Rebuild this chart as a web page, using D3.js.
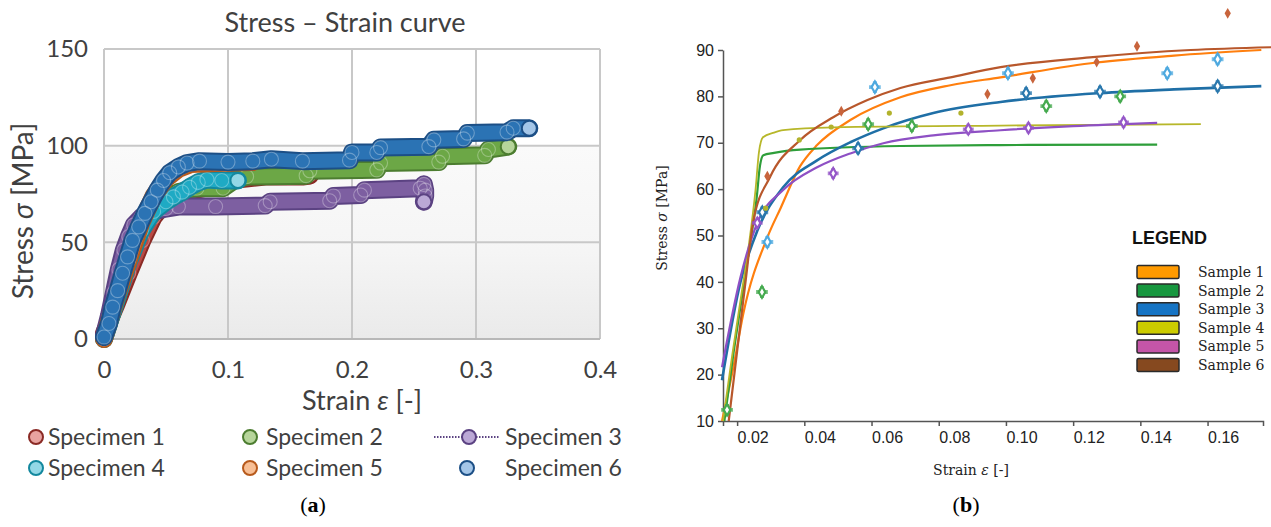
<!DOCTYPE html>
<html>
<head>
<meta charset="utf-8">
<script src="https://cdn.jsdelivr.net/npm/d3@7"></script>
<style>
  body { margin: 0; background: #fff; }
  svg { display: block; }
</style>
</head>
<body>
<svg id="chart" width="1271" height="527"></svg>
<script>
// ---------- panel (a) data : strain [-], stress [MPa] ----------
const specimenNames = ['Specimen 1', 'Specimen 2', 'Specimen 3', 'Specimen 4', 'Specimen 5', 'Specimen 6']
const specimen1 = [[0, 3], [0.01, 18], [0.02, 34], [0.031, 51], [0.04, 63], [0.05, 71], [0.06, 75], [0.08, 78], [0.1, 82], [0.13, 84], [0.16, 84], [0.166, 84.5]]
const specimen2 = [[0, 0], [0.01, 20], [0.02, 41], [0.03, 58], [0.04, 68], [0.05, 73], [0.06, 76], [0.075, 78], [0.096, 78], [0.105, 82], [0.115, 84], [0.163, 84.5], [0.166, 87], [0.22, 87.5], [0.223, 91], [0.27, 91.5], [0.273, 94.5], [0.307, 95], [0.31, 98], [0.326, 99.5]]
const specimen3 = [[0, 2], [0.004, 12], [0.008, 24], [0.012, 36], [0.016, 46], [0.02, 53], [0.024, 59], [0.03, 63], [0.04, 66], [0.05, 67.5], [0.06, 68.5], [0.09, 68.5], [0.13, 69], [0.134, 71], [0.182, 71.5], [0.185, 74], [0.207, 74.5], [0.21, 77], [0.255, 78], [0.258, 80], [0.259, 77], [0.259, 74], [0.258, 71]]
const specimen4 = [[0, 0], [0.01, 20], [0.02, 40], [0.03, 56], [0.04, 66], [0.05, 71], [0.056, 73.5], [0.063, 76], [0.069, 78.5], [0.076, 81], [0.083, 82.5], [0.095, 82], [0.108, 82]]
const specimen5 = [[0, 0], [0.01, 22], [0.02, 41], [0.03, 60], [0.04, 74], [0.05, 83], [0.06, 88], [0.07, 90.5], [0.09, 91], [0.12, 91.5]]
const specimen6 = [[0, 1], [0.004, 8], [0.007, 16.5], [0.011, 25], [0.015, 34], [0.019, 42.5], [0.023, 51], [0.028, 58], [0.033, 65], [0.038, 71], [0.043, 77], [0.048, 82], [0.053, 86], [0.06, 89], [0.067, 91], [0.077, 92], [0.1, 91.5], [0.12, 92], [0.135, 93], [0.16, 92], [0.198, 92.5], [0.2, 96.5], [0.22, 96.5], [0.223, 99], [0.262, 99.5], [0.266, 103], [0.29, 103.5], [0.293, 106.5], [0.325, 107], [0.33, 109], [0.343, 109]]
const strainTicksA = [0, 0.1, 0.2, 0.3, 0.4]
const stressTicksA = [0, 50, 100, 150]

// ---------- panel (b) data ----------
const sampleNames = ['Sample 1', 'Sample 2', 'Sample 3', 'Sample 4', 'Sample 5', 'Sample 6']
const sample1Fit = [[0.0155, 10], [0.019, 22], [0.0218, 33], [0.029, 49.6], [0.033, 56], [0.0388, 65], [0.0438, 69.5], [0.0537, 74.9], [0.0686, 79.8], [0.0835, 82.4], [0.0984, 84.1], [0.127, 87.3], [0.15, 88.8], [0.176, 90]]
const sample2Fit = [[0.0162, 10], [0.019, 25], [0.0215, 37], [0.0238, 48], [0.0258, 58], [0.0268, 65], [0.0278, 67.3], [0.031, 67.8], [0.0388, 68.5], [0.0686, 69.3], [0.0984, 69.5], [0.145, 69.6]]
const sample3Fit = [[0.0155, 18.8], [0.021, 40], [0.026, 51], [0.0337, 60.4], [0.0438, 66.2], [0.0537, 70.1], [0.0635, 73.1], [0.0784, 76.4], [0.0984, 78.8], [0.128, 80.7], [0.15, 81.5], [0.176, 82.2]]
const sample4Fit = [[0.0158, 10], [0.0185, 24], [0.021, 36], [0.0235, 48], [0.0255, 60], [0.0265, 68], [0.0277, 71.2], [0.031, 72.2], [0.0337, 72.7], [0.0486, 73.3], [0.0984, 73.7], [0.158, 74]]
const sample5Fit = [[0.0155, 21.6], [0.021, 41], [0.026, 52.7], [0.0337, 59.8], [0.0438, 64.7], [0.0537, 67.7], [0.0635, 69.9], [0.0784, 71.6], [0.0984, 72.7], [0.12, 73.6], [0.145, 74.3]]
const sample6Fit = [[0.0175, 10], [0.02, 25], [0.0225, 40], [0.0248, 53], [0.0298, 62.6], [0.0388, 70.6], [0.0486, 75.5], [0.0588, 79.2], [0.0686, 81.8], [0.0835, 84.1], [0.0984, 86.3], [0.125, 88.4], [0.155, 90], [0.179, 90.6]]
const lightBlueMarks = [[0.029, 48.6], [0.061, 82], [0.1006, 85], [0.148, 85], [0.163, 88]]
const darkBlueMarks = [[0.0275, 55], [0.056, 68.8], [0.106, 80.7], [0.128, 81], [0.163, 82.2]]
const brownMarks = [[0.029, 62.8], [0.051, 76.8], [0.0945, 80.5], [0.108, 83.9], [0.127, 87.4], [0.139, 90.8], [0.166, 97.9]]
const greenMarks = [[0.017, 12.4], [0.0274, 37.8], [0.059, 74], [0.072, 73.6], [0.112, 77.9], [0.134, 80]]
const purpleMarks = [[0.026, 52.7], [0.0486, 63.4], [0.0888, 72.9], [0.1067, 73.2], [0.135, 74.4]]
const oliveMarks = [[0.0285, 55.9], [0.0385, 70.6], [0.048, 73.4], [0.0653, 76.4], [0.0866, 76.4]]
const strainTicksB = [0.02, 0.04, 0.06, 0.08, 0.10, 0.12, 0.14, 0.16]
const stressTicksB = [10, 20, 30, 40, 50, 60, 70, 80, 90]

const svg = d3.select('#chart')
const defs = svg.append('defs')

/* ------------- PANEL A ------------ */
const specimens = [specimen1, specimen2, specimen3, specimen4, specimen5, specimen6]
const specColor = ['#b94a44', '#6ca746', '#7d5fa1', '#1eaac4', '#ec7c30', '#2b73b4']
const specDark = ['#8a2a25', '#4c7d30', '#5b4282', '#13889e', '#b75a1c', '#1c4f86']
const specLight = ['#e8a3a0', '#b6d59a', '#bba8d6', '#93d8e6', '#f8bf95', '#a4c6e8']
const fontA = 'Lato, "Open Sans", sans-serif'

const xA = d3.scaleLinear().domain([0, 0.4]).range([104, 600])
const yA = d3.scaleLinear().domain([0, 150]).range([339, 49])

const shade = defs.append('linearGradient').attr('id', 'shadeA')
  .attr('x1', 0).attr('y1', 0).attr('x2', 0).attr('y2', 1)
shade.append('stop').attr('offset', '0%').attr('stop-color', '#fafafa')
shade.append('stop').attr('offset', '55%').attr('stop-color', '#f5f5f5')
shade.append('stop').attr('offset', '100%').attr('stop-color', '#eaeaea')

const gA = svg.append('g')
gA.append('rect')
  .attr('x', xA(0)).attr('y', yA(150))
  .attr('width', xA(0.4) - xA(0)).attr('height', yA(0) - yA(150))
  .attr('fill', '#fff')
gA.append('rect')
  .attr('x', xA(0)).attr('y', yA(100))
  .attr('width', xA(0.4) - xA(0)).attr('height', yA(0) - yA(100))
  .attr('fill', 'url(#shadeA)')

gA.selectAll('line.vgrid').data(strainTicksA).enter().append('line')
  .attr('class', 'vgrid')
  .attr('x1', d => xA(d)).attr('x2', d => xA(d))
  .attr('y1', yA(150)).attr('y2', yA(0))
  .attr('stroke', '#c8c8c8').attr('stroke-width', 2)
gA.selectAll('line.hgrid').data(stressTicksA).enter().append('line')
  .attr('class', 'hgrid')
  .attr('x1', xA(0)).attr('x2', xA(0.4))
  .attr('y1', d => yA(d)).attr('y2', d => yA(d))
  .attr('stroke', d => d === 0 ? '#b8b8b8' : '#c8c8c8').attr('stroke-width', 2)

const axA_y = gA.append('g').attr('transform', `translate(${xA(0)},0)`)
  .call(d3.axisLeft(yA).tickValues(stressTicksA).tickSize(0).tickPadding(16))
const axA_x = gA.append('g').attr('transform', `translate(0,${yA(0)})`)
  .call(d3.axisBottom(xA).tickValues(strainTicksA).tickSize(0).tickPadding(22)
    .tickFormat(d => d === 0 ? '0' : d3.format('.1f')(d)))
for (const ax of [axA_y, axA_x]) {
  ax.select('.domain').remove()
  ax.selectAll('text').attr('font-family', fontA).attr('font-size', 24).attr('fill', '#404040')
}

const lineA = d3.line().x(d => xA(d[0])).y(d => yA(d[1]))
specimens.forEach((pts, i) => {
  const g = gA.append('g')
  g.append('path').attr('d', lineA(pts))
    .attr('fill', 'none').attr('stroke', specDark[i]).attr('stroke-width', 18)
    .attr('stroke-linejoin', 'round').attr('stroke-linecap', 'round')
  g.append('path').attr('d', lineA(pts))
    .attr('fill', 'none').attr('stroke', specColor[i]).attr('stroke-width', 14)
    .attr('stroke-linejoin', 'round').attr('stroke-linecap', 'round')
  g.selectAll('circle.m').data(pts.slice(0, -1)).enter().append('circle')
    .attr('class', 'm')
    .attr('cx', d => xA(d[0])).attr('cy', d => yA(d[1])).attr('r', 7)
    .attr('fill', 'none').attr('stroke', '#fff').attr('stroke-opacity', 0.3).attr('stroke-width', 1.1)
  const last = pts[pts.length - 1]
  g.append('circle')
    .attr('cx', xA(last[0])).attr('cy', yA(last[1])).attr('r', 7.5)
    .attr('fill', specLight[i]).attr('stroke', specDark[i]).attr('stroke-width', 2)
})

gA.append('text').attr('x', 345).attr('y', 32)
  .attr('text-anchor', 'middle').attr('font-family', fontA).attr('font-size', 27).attr('fill', '#404040')
  .text('Stress – Strain curve')

const yTitleA = gA.append('text')
  .attr('transform', 'translate(33,211) rotate(-90)')
  .attr('text-anchor', 'middle').attr('font-family', fontA).attr('font-size', 28).attr('fill', '#404040')
yTitleA.append('tspan').text('Stress ')
yTitleA.append('tspan').attr('font-style', 'italic').text('σ')
yTitleA.append('tspan').text(' [MPa]')

const xTitleA = gA.append('text').attr('x', 362).attr('y', 410)
  .attr('text-anchor', 'middle').attr('font-family', fontA).attr('font-size', 27).attr('fill', '#404040')
xTitleA.append('tspan').text('Strain ')
xTitleA.append('tspan').attr('font-style', 'italic').text('ε')
xTitleA.append('tspan').text(' [-]')

// legend (a)
const legendA = [
  { i: 0, mx: 36, tx: 48, y: 437 },
  { i: 1, mx: 250, tx: 266, y: 437 },
  { i: 2, mx: 469, tx: 505, y: 437 },
  { i: 3, mx: 36, tx: 48, y: 468 },
  { i: 4, mx: 250, tx: 266, y: 468 },
  { i: 5, mx: 467, tx: 505, y: 468 }
]
legendA.forEach(l => {
  if (l.i === 2) {
    gA.append('line').attr('x1', 434).attr('x2', 500).attr('y1', l.y).attr('y2', l.y)
      .attr('stroke', specDark[2]).attr('stroke-width', 2).attr('stroke-dasharray', '1.5,1.5')
  }
  gA.append('circle').attr('cx', l.mx).attr('cy', l.y).attr('r', 7)
    .attr('fill', specLight[l.i]).attr('stroke', specDark[l.i]).attr('stroke-width', 2)
  gA.append('text').attr('x', l.tx).attr('y', l.y + 8)
    .attr('font-family', fontA).attr('font-size', 23).attr('fill', '#404040')
    .text(specimenNames[l.i])
})

const capA = svg.append('text').attr('x', 313).attr('y', 512).attr('text-anchor', 'middle')
  .attr('font-family', '"Liberation Serif", serif').attr('font-size', 22).attr('fill', '#000')
capA.append('tspan').text('(')
capA.append('tspan').attr('font-weight', 'bold').text('a')
capA.append('tspan').text(')')

/* ------------- PANEL B ------------ */
const fits = [sample1Fit, sample2Fit, sample3Fit, sample4Fit, sample5Fit, sample6Fit]
const fitColor = ['#ff7f0e', '#2e9e3a', '#1f6fa6', '#b7b72a', '#8e50c4', '#b8572b']
const swatchColor = ['#ff9a00', '#17973f', '#1674c4', '#cccc00', '#c455a8', '#86491f']
const serifB = '"DejaVu Serif", serif'

const xB = d3.scaleLinear().domain([0.0158, 0.1765]).range([723, 1263])
const yB = d3.scaleLinear().domain([10, 90]).range([421, 50])
const gB = svg.append('g')

const axB_x = gB.append('g').attr('transform', `translate(0,${yB(10)})`)
  .call(d3.axisBottom(xB).tickValues(strainTicksB).tickSize(5).tickSizeOuter(5).tickPadding(6)
    .tickFormat(d3.format('.2f')))
axB_x.selectAll('.tick text').attr('text-anchor', 'start')
const axB_y = gB.append('g').attr('transform', `translate(${xB.range()[0]},0)`)
  .call(d3.axisLeft(yB).tickValues(stressTicksB).tickSize(5).tickSizeOuter(0).tickPadding(4))
for (const ax of [axB_x, axB_y]) {
  ax.select('.domain').attr('stroke', '#555').attr('stroke-width', 1.5)
  ax.selectAll('.tick line').attr('stroke', '#555').attr('stroke-width', 1.5)
  ax.selectAll('text').attr('font-family', '"Liberation Sans", Arial, sans-serif')
    .attr('font-size', 16).attr('fill', '#222')
}

const lineB = d3.line().x(d => xB(d[0])).y(d => yB(d[1])).curve(d3.curveMonotoneX)
fits.forEach((pts, i) => {
  gB.append('path').attr('d', lineB(pts))
    .attr('fill', 'none').attr('stroke', fitColor[i])
    .attr('stroke-width', i === 3 ? 1.8 : (i === 2 ? 2.6 : 2.2))
})

// open diamond with small cross tips, like the measured points
function diamondMarks(pts, color, size) {
  gB.selectAll(null).data(pts).enter().append('path')
    .attr('transform', d => `translate(${xB(d[0])},${yB(d[1])})`)
    .attr('d', d3.symbol().type(d3.symbolCross).size(size * 1.1))
    .attr('fill', color).attr('fill-opacity', 0.75)
  gB.selectAll(null).data(pts).enter().append('path')
    .attr('transform', d => `translate(${xB(d[0])},${yB(d[1])})`)
    .attr('d', d3.symbol().type(d3.symbolDiamond).size(size * 0.55))
    .attr('fill', '#fff').attr('stroke', color).attr('stroke-width', 2.2)
}
diamondMarks(lightBlueMarks, '#4ea9df', 70)
diamondMarks(darkBlueMarks, '#2a78ad', 70)
diamondMarks(greenMarks, '#45aa4f', 70)
diamondMarks(purpleMarks, '#9557c8', 60)
gB.selectAll(null).data(brownMarks).enter().append('path')
  .attr('transform', d => `translate(${xB(d[0])},${yB(d[1])})`)
  .attr('d', d3.symbol().type(d3.symbolDiamond).size(34))
  .attr('fill', '#c8643c')
gB.selectAll(null).data(oliveMarks).enter().append('circle')
  .attr('cx', d => xB(d[0])).attr('cy', d => yB(d[1])).attr('r', 2.6)
  .attr('fill', '#b2b22c')

const yTitleB = gB.append('text').attr('transform', 'translate(667,218) rotate(-90)')
  .attr('text-anchor', 'middle').attr('font-family', serifB).attr('font-size', 14).attr('fill', '#222')
yTitleB.append('tspan').text('Stress ')
yTitleB.append('tspan').attr('font-style', 'italic').text('σ')
yTitleB.append('tspan').text(' [MPa]')
const xTitleB = gB.append('text').attr('x', 971).attr('y', 475)
  .attr('text-anchor', 'middle').attr('font-family', serifB).attr('font-size', 14).attr('fill', '#222')
xTitleB.append('tspan').text('Strain ')
xTitleB.append('tspan').attr('font-style', 'italic').text('ε')
xTitleB.append('tspan').text(' [-]')

// legend (b)
gB.append('text').attr('x', 1132).attr('y', 244)
  .attr('font-family', '"Liberation Sans", Arial, sans-serif').attr('font-weight', 'bold')
  .attr('font-size', 18).attr('fill', '#111').text('LEGEND')
sampleNames.forEach((name, i) => {
  const cy = 272 + i * 18.6
  gB.append('rect').attr('x', 1137).attr('y', cy - 6.5).attr('width', 42).attr('height', 13)
    .attr('rx', 1.5).attr('fill', swatchColor[i]).attr('stroke', '#2a2a2a').attr('stroke-width', 1.5)
  gB.append('text').attr('x', 1198).attr('y', cy + 5)
    .attr('font-family', serifB).attr('font-size', 14).attr('fill', '#222').text(name)
})

const capB = svg.append('text').attr('x', 966).attr('y', 512).attr('text-anchor', 'middle')
  .attr('font-family', '"Liberation Serif", serif').attr('font-size', 22).attr('fill', '#000')
capB.append('tspan').text('(')
capB.append('tspan').attr('font-weight', 'bold').text('b')
capB.append('tspan').text(')')
</script>
</body>
</html>
